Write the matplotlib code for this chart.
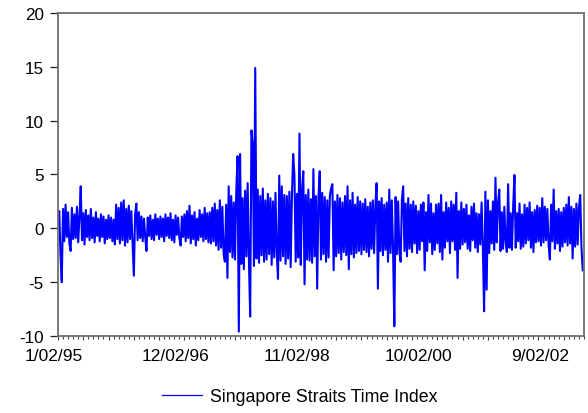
import matplotlib
matplotlib.use("Agg")
import matplotlib.pyplot as plt
import matplotlib.ticker as ticker
import matplotlib.transforms as mtransforms
import numpy as np

plt.rcParams['font.family'] = ['Liberation Sans', 'DejaVu Sans']
plt.rcParams['axes.unicode_minus'] = False

step = 5
r95a = [0.3, 1.6, -2.5, -5.0, 1.8, -1.2, 2.2, -0.8, 1.5, -1.4, -2.1, 1.9, -1.0, 1.3, -0.9, 2.0, -1.3, 1.1, 3.9, -1.1]
r95b = [1.4, -1.5, 1.7, -0.8, 1.2, -1.1, 1.8, -0.9, 1.0, -1.3, 1.5, -0.7, 0.9, -1.2, 1.3, -0.8, 1.1, -1.4, 0.8, -1.0]
r95c = [1.2, -0.9, 1.0, -1.2, 0.8, -1.5, 2.2, -1.0, 1.9, -1.4, 2.4, -1.1, 2.6, -1.6, 1.8, -1.3, 2.1, -1.0, 1.6, -1.3]
r96a = [-4.4, 1.3, 2.3, -1.1, 1.5, -0.9, 1.1, -1.2, 0.9, -0.8, -2.1, 1.0, -0.7, 1.2, -1.0, 0.8, -1.1, 1.3, -0.6, 0.9]
r96b = [-1.0, 1.1, -0.8, 0.9, -1.2, 1.3, -0.7, 1.0, -0.9, 1.4, -1.1, 0.8, -1.3, 1.2, -0.6, 1.0, -0.9, -1.6, 1.1, -0.8]
r97a = [1.3, -1.2, 1.6, -0.9, 2.1, -1.4, 1.2, -1.0, 1.5, -1.6, 0.9, -1.1, 1.7, -0.8, 1.3, -1.2, 1.9, -1.0, 1.4, -1.3]
r97b = [1.5, -1.4, 1.9, -1.2, 2.3, -1.6, 1.7, -2.0, 2.6, -1.8, 2.0, -2.4, -3.1, 2.2, -4.6, 3.9, -2.2, 3.0, -2.7, 2.4]
r97c = [-2.9, 3.4, 6.7, -9.6, 6.9, -3.3, 2.8, -3.8, 3.5, -2.6, 4.2, -3.0, -8.2, 9.1, 7.9, -3.5, 14.9, -2.8, 3.6, -3.2]
r98a = [3.0, -2.5, 3.7, -3.1, 2.6, -2.9, 3.2, -2.4, 2.8, -3.4, 2.5, -2.7, 3.3, -2.2, -4.7, 4.9, -3.0, 3.9, -2.6, 3.1]
r98b = [-3.3, 3.0, -2.8, 3.4, -3.6, 2.9, 6.9, 4.9, -3.1, 3.2, -2.7, 8.8, -3.4, 3.5, 5.3, -5.2, 3.1, -2.9, 3.6, -3.0]
r98c = [2.7, -3.2, 5.5, -2.6, 3.0, -5.6, 2.8, 5.3, -2.9, 3.3, -2.4, 2.9, -3.1, 2.6, -2.7, 3.0, 3.7, 4.1, -3.9, 2.5]
r99a = [-2.6, 3.1, -2.3, 2.8, -2.9, 2.4, -2.2, 3.0, -2.5, 3.9, -3.8, 2.6, -2.4, 3.3, -2.7, 2.2, -2.3, 2.9, -2.1, 2.5]
r99b = [-2.4, 2.3, -2.0, 2.7, -2.2, 2.0, -2.6, 2.4, -1.9, 2.6, -2.3, 2.1, 4.2, -5.6, 2.5, -2.1, 2.8, -2.5, 2.2, -2.0]
r00a = [2.4, -3.1, 3.6, -2.3, 2.6, -2.0, -9.1, 2.9, -2.4, 2.5, -2.2, -3.1, 2.7, 3.9, -2.1, 2.3, -2.6, 2.8, -1.9, 2.2]
r00b = [-2.2, 2.5, -1.4, 2.1, -2.3, 1.6, -2.0, 2.2, -1.2, 2.4, -3.9, 1.5, -2.1, 3.1, -1.3, 2.3, -2.4, 1.4, -2.0, 2.2]
r01a = [-1.4, 2.3, -2.2, 3.1, -2.9, 1.5, -1.8, 2.4, -1.2, 1.9, -2.3, 2.5, -1.2, 2.2, -2.0, 3.3, -4.6, 1.6, -1.9, 2.4]
r01b = [-1.5, 1.8, -1.3, 2.2, -1.9, 1.2, -2.1, 2.0, -1.1, 2.3, -1.8, 1.4, -2.2, 1.3, -1.5, 2.4, -1.7, -7.7, 3.4, -5.7]
r02a = [2.6, -2.3, 1.6, -1.4, 2.5, -2.0, 4.7, -1.3, 2.3, 3.6, -2.1, 1.5, -1.9, 2.0, -1.2, -2.2, 4.1, -1.8, 1.4, -2.0]
r02b = [2.1, 4.95, -1.8, 1.4, -1.2, 2.3, -1.9, 1.3, -1.7, 2.2, -1.4, 1.9, -1.1, 2.4, -1.8, 1.5, -2.2, 1.7, -1.3, 2.1]
r02c = [-1.2, 1.9, -1.6, 2.8, -1.3, 2.0, -1.1, 1.8, -1.5, -2.9, 2.2, -1.2, 3.6, -1.9, 1.6, -1.4, 1.8, -2.1, 1.5, -1.7]
r03a = [1.9, -1.3, 2.2, -1.6, 2.9, -1.4, 2.0, -2.8, 1.8, -1.7, 2.3, -1.5, 1.9, 3.1, -1.8, -3.9]

returns = (r95a + r95b + r95c + r96a + r96b + r97a + r97b + r97c + r98a + r98b
           + r98c + r99a + r99b + r00a + r00b + r01a + r01b + r02a + r02b + r02c + r03a)
obs = np.arange(len(returns)) * step

date_labels = ["1/02/95", "12/02/96", "11/02/98", "10/02/00", "9/02/02"]
label_obs = [0, 481, 962, 1443, 1924]

fig = plt.figure(figsize=(5.88, 4.14), dpi=100)
ax = fig.add_axes([0.0986, 0.186, 0.8946, 0.7802])

line, = ax.plot(obs, returns, color="#0000ff", lw=1.5, label="Singapore Straits Time Index")

ax.set_xlim(0, 2080)
ax.set_ylim(-10, 20)
ax.yaxis.set_major_locator(ticker.MultipleLocator(5))
ax.xaxis.set_major_locator(ticker.MultipleLocator(100))
ax.xaxis.set_minor_locator(ticker.MultipleLocator(20))
ax.set_xticklabels([])
ax.tick_params(axis="y", direction="out", length=5.8, width=0.9, pad=4.5,
               labelsize=12.3, color="#222222")
ax.tick_params(axis="x", which="major", direction="out", length=3.2, width=0.8, color="#444444")
ax.tick_params(axis="x", which="minor", direction="out", length=1.9, width=0.8, color="#444444")
for s in ax.spines.values():
    s.set_color("#707070")
    s.set_linewidth(1.3)

# date labels sit a little left of their tick, like in the original
trans = mtransforms.offset_copy(ax.get_xaxis_transform(), fig=fig, x=-4.5, y=-12, units="dots")
for pos, lab in zip(label_obs, date_labels):
    ax.text(pos, 0, lab, transform=trans, ha="center", va="top", fontsize=12.5)

fig.legend(handles=[line], loc="center", bbox_to_anchor=(0.51, 0.0394), frameon=False,
           fontsize=12.8, handlelength=2.25, handletextpad=0.45)
for h in fig.legends[0].get_lines():
    h.set_linewidth(0.9)

fig.savefig("out.png", dpi=100)
